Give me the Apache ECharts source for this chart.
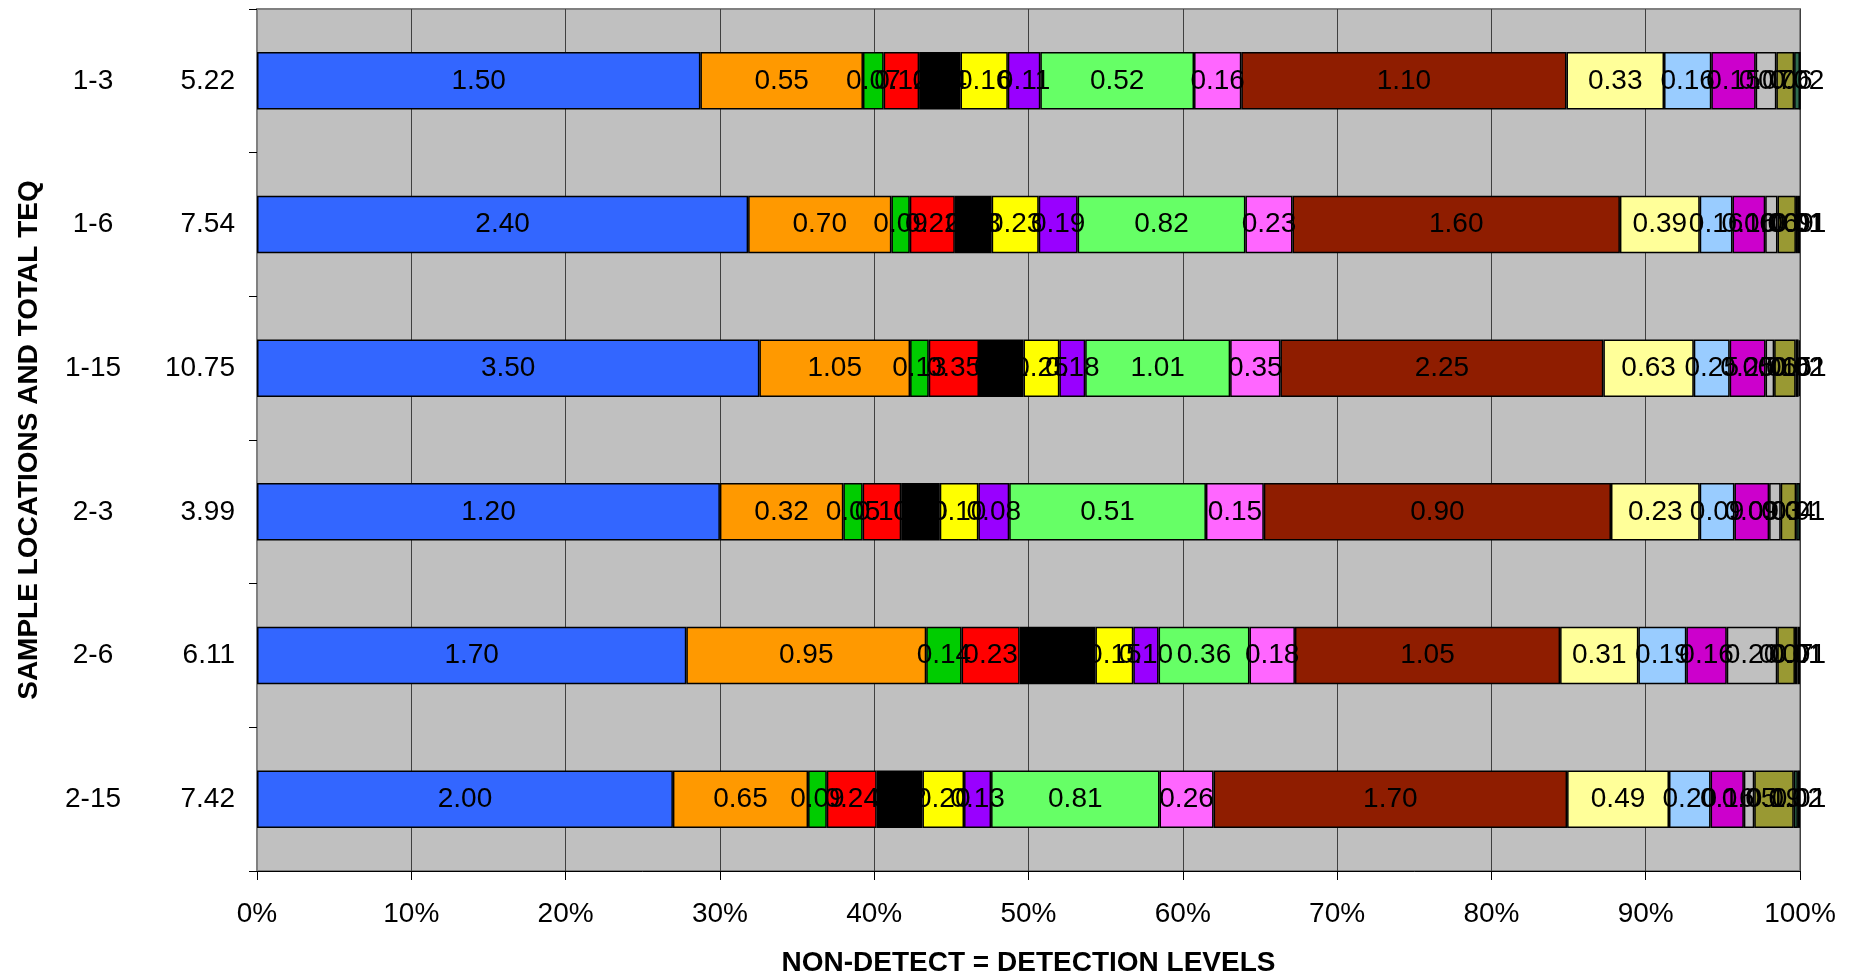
<!DOCTYPE html>
<html><head><meta charset="utf-8">
<script src="https://cdn.jsdelivr.net/npm/echarts@6/dist/echarts.min.js"></script>
<style>html,body{margin:0;padding:0;background:#fff}#c{width:1858px;height:976px}</style>
</head><body><div id="c"></div>
<script>
// Categories (sample locations) and total TEQ labels
const locations = ['1-3', '1-6', '1-15', '2-3', '2-6', '2-15'];
const totals = ['5.22', '7.54', '10.75', '3.99', '6.11', '7.42'];

// Component values per location (17 components, in stacking order)
const row_1_3  = [1.50, 0.55, 0.07, 0.12, 0.14, 0.16, 0.11, 0.52, 0.16, 1.10, 0.33, 0.16, 0.15, 0.07, 0.06, 0.02, 0];
const row_1_6  = [2.40, 0.70, 0.09, 0.22, 0.18, 0.23, 0.19, 0.82, 0.23, 1.60, 0.39, 0.16, 0.16, 0.06, 0.09, 0.01, 0.01];
const row_1_15 = [3.50, 1.05, 0.13, 0.35, 0.31, 0.25, 0.18, 1.01, 0.35, 2.25, 0.63, 0.25, 0.25, 0.06, 0.15, 0.02, 0.01];
const row_2_3  = [1.20, 0.32, 0.05, 0.10, 0.10, 0.10, 0.08, 0.51, 0.15, 0.90, 0.23, 0.09, 0.09, 0.03, 0.04, 0.01, 0];
const row_2_6  = [1.70, 0.95, 0.14, 0.23, 0.30, 0.15, 0.10, 0.36, 0.18, 1.05, 0.31, 0.19, 0.16, 0.20, 0.07, 0.01, 0.01];
const row_2_15 = [2.00, 0.65, 0.09, 0.24, 0.22, 0.20, 0.13, 0.81, 0.26, 1.70, 0.49, 0.20, 0.16, 0.05, 0.19, 0.02, 0.01];

const rows = [row_1_3, row_1_6, row_1_15, row_2_3, row_2_6, row_2_15];

const seriesColors = ['#3366FF', '#FF9900', '#00CC00', '#FF0000', '#000000', '#FFFF00', '#9900FF',
  '#66FF66', '#FF66FF', '#8F1D00', '#FFFF99', '#99CCFF', '#CC00CC', '#C0C0C0', '#999933', '#2E6B4E', '#993300'];

const FONT = '"Liberation Sans", Arial, sans-serif';
const rowSums = rows.map(r => r.reduce((a, b) => a + b, 0));
const nSeries = row_1_3.length;

const series = [];
for (let s = 0; s < nSeries; s++) {
  series.push({
    name: 'Component ' + (s + 1),
    type: 'bar',
    stack: 'all',
    barWidth: '40%',
    data: rows.map((r, i) => ({ value: r[s] / rowSums[i] * 100, raw: r[s] })),
    itemStyle: { color: seriesColors[s], borderColor: '#000', borderWidth: 1.5 },
    label: {
      show: true,
      position: 'inside',
      color: '#000',
      fontFamily: FONT,
      fontSize: 28,
      formatter: p => p.data.raw > 0 ? p.data.raw.toFixed(2) : ''
    },
    labelLayout: { hideOverlap: false },
    emphasis: { disabled: true },
    animation: false
  });
}

const chart = echarts.init(document.getElementById('c'));
chart.setOption({
  animation: false,
  grid: {
    left: 257, right: 58, top: 9, bottom: 105,
    outerBoundsMode: 'none', containLabel: false,
    show: true, backgroundColor: '#C0C0C0', borderColor: '#808080', borderWidth: 2
  },
  xAxis: {
    type: 'value', min: 0, max: 100, interval: 10,
    axisLine: { show: true, lineStyle: { color: '#000', width: 1 } },
    axisTick: { show: true, length: 9, lineStyle: { color: '#000' } },
    axisLabel: { formatter: '{value}%', fontFamily: FONT, fontSize: 28, color: '#000', margin: 29 },
    splitLine: { show: true, lineStyle: { color: '#404040', width: 1 } },
    name: 'NON-DETECT = DETECTION LEVELS',
    nameLocation: 'middle', nameGap: 78,
    nameTextStyle: { fontFamily: FONT, fontSize: 28, fontWeight: 'bold', color: '#000' }
  },
  yAxis: {
    type: 'category', data: locations, inverse: true, boundaryGap: true,
    axisLine: { show: true, lineStyle: { color: '#808080', width: 2 } },
    axisTick: { show: true, length: 8, lineStyle: { color: '#000' } },
    axisLabel: {
      margin: 22,
      formatter: (v, idx) => '{loc|' + v + '}{tot|' + totals[idx] + '}',
      rich: {
        loc: { width: 140, align: 'center', fontFamily: FONT, fontSize: 28, color: '#000' },
        tot: { width: 72, align: 'right', fontFamily: FONT, fontSize: 28, color: '#000' }
      }
    },
    name: 'SAMPLE LOCATIONS AND TOTAL TEQ',
    nameLocation: 'middle', nameGap: 214, nameRotate: 90,
    nameTextStyle: { fontFamily: FONT, fontSize: 28, fontWeight: 'bold', color: '#000' }
  },
  series: series
});
</script>
</body></html>
